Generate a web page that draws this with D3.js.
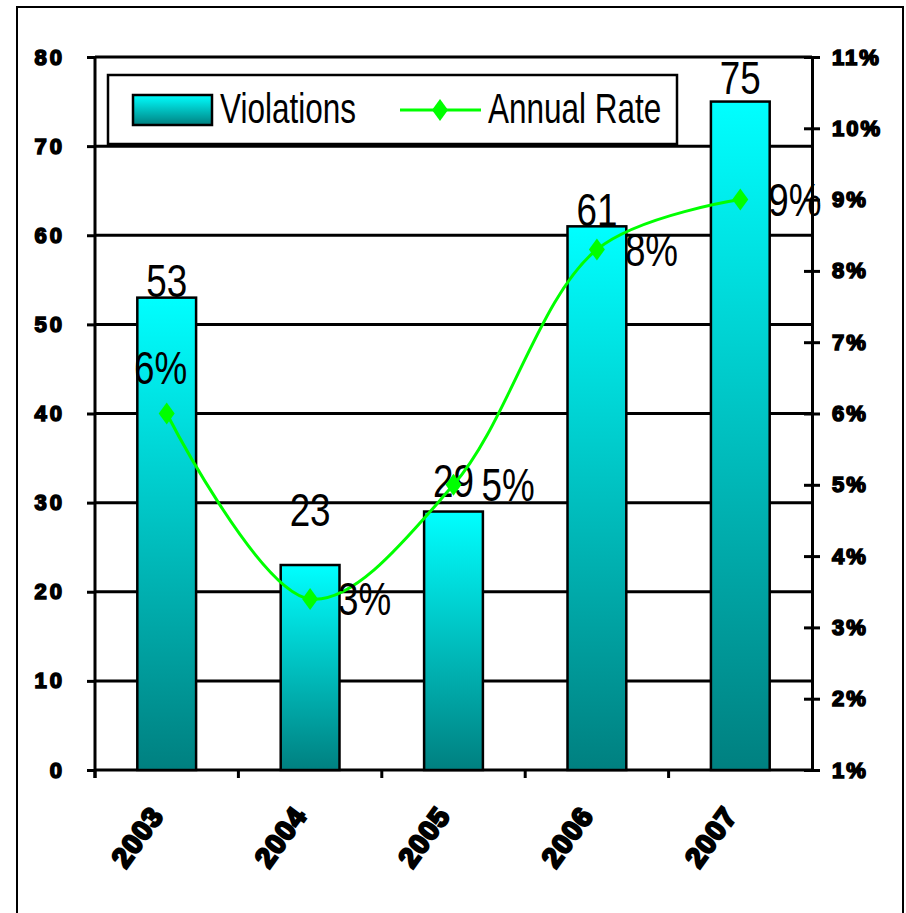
<!DOCTYPE html>
<html><head><meta charset="utf-8">
<script src="https://cdn.jsdelivr.net/npm/d3@7"></script>
<style>
html,body{margin:0;padding:0;background:#fff;}
svg{display:block;}
</style></head>
<body>
<script>
// ---- data ----
const categories = ["2003", "2004", "2005", "2006", "2007"];
const violations = [53, 23, 29, 61, 75];
const annualRate = [6.0, 3.4, 5.0, 8.3, 9.0];
const rateLabels = ["6%", "3%", "5%", "8%", "9%"];
const leftTicks = [0, 10, 20, 30, 40, 50, 60, 70, 80];
const rightTicks = [1, 2, 3, 4, 5, 6, 7, 8, 9, 10, 11];
const seriesNames = ["Violations", "Annual Rate"];

// ---- layout ----
const W = 906, H = 913;
const plot = {left: 95, right: 812, top: 57, bottom: 770};
const barLabelLift = [1, 39, 15, 0, 8];
const sansFont = "'Liberation Sans',Arial,sans-serif";
const SQ = 0.8; // horizontal squeeze for narrow look

const svg = d3.select("body").append("svg").attr("width", W).attr("height", H);

const defs = svg.append("defs");
const grad = defs.append("linearGradient").attr("id", "barGrad")
  .attr("x1", 0).attr("y1", 0).attr("x2", 0).attr("y2", 1);
grad.append("stop").attr("offset", "0%").attr("stop-color", "#00ffff");
grad.append("stop").attr("offset", "100%").attr("stop-color", "#008080");

function narrowText(sel, fs) {
  return sel.attr("font-family", sansFont).attr("font-size", fs).attr("fill", "#000");
}

// outer frame
svg.append("path").attr("d", `M17,${H+5} V7 H903 V${H+5}`)
  .attr("fill", "none").attr("stroke", "#000").attr("stroke-width", 2);

const x = d3.scaleBand().domain(categories).range([plot.left, plot.right])
  .paddingInner(0.59).paddingOuter(0.295);
const y = d3.scaleLinear().domain([0, 80]).range([plot.bottom, plot.top]);
const yR = d3.scaleLinear().domain([1, 11]).range([plot.bottom, plot.top]);

// gridlines
svg.append("g").selectAll("line").data(leftTicks.filter(d => d > 0)).join("line")
  .attr("x1", plot.left).attr("x2", plot.right)
  .attr("y1", d => y(d)).attr("y2", d => y(d))
  .attr("stroke", "#000").attr("stroke-width", 3);

// left axis
const gL = svg.append("g").attr("transform", `translate(${plot.left},0)`)
  .call(d3.axisLeft(y).tickValues(leftTicks).tickSize(8).tickPadding(22).tickSizeOuter(0));
gL.select(".domain").attr("stroke-width", 3).attr("d", `M0,${plot.top}V${plot.bottom + 8}`);
gL.selectAll(".tick line").attr("stroke-width", 3);
gL.selectAll(".tick text").attr("font-family", sansFont).attr("font-weight", "bold")
  .attr("font-size", 22).attr("letter-spacing", 3).attr("stroke", "#000").attr("stroke-width", 1.6)
  .attr("fill", "#000");

// right axis
const gR = svg.append("g").attr("transform", `translate(${plot.right},0)`)
  .call(d3.axisRight(yR).tickValues(rightTicks).tickFormat(d => d + "%").tickSize(8).tickPadding(12).tickSizeOuter(0));
gR.select(".domain").attr("stroke-width", 3);
gR.selectAll(".tick line").attr("stroke-width", 3).attr("x1", -8);
gR.selectAll(".tick text").attr("font-family", sansFont).attr("font-weight", "bold")
  .attr("font-size", 22).attr("letter-spacing", 2).attr("stroke", "#000").attr("stroke-width", 1.6)
  .attr("fill", "#000");

// bottom axis
const gB = svg.append("g").attr("transform", `translate(0,${plot.bottom})`);
gB.append("line").attr("x1", plot.left).attr("x2", plot.right).attr("stroke", "#000").attr("stroke-width", 3);
gB.selectAll(".xt").data(categories).join("line").attr("class", "xt")
  .attr("x1", d => x(d) - x.step() * 0.295).attr("x2", d => x(d) - x.step() * 0.295)
  .attr("y1", 0).attr("y2", 8).attr("stroke", "#000").attr("stroke-width", 3);
gB.selectAll(".xl").data(categories).join("text").attr("class", "xl")
  .attr("transform", d => `translate(${x(d) + x.bandwidth() / 2 - 10},${40}) rotate(-54)`)
  .attr("text-anchor", "end").attr("dy", "0.35em")
  .attr("font-family", sansFont).attr("font-weight", "bold").attr("font-size", 28)
  .attr("letter-spacing", 1).attr("stroke", "#000").attr("stroke-width", 2.4)
  .text(d => d);

// bars
svg.append("g").selectAll("rect").data(violations).join("rect")
  .attr("x", (d, i) => x(categories[i]))
  .attr("y", d => y(d))
  .attr("width", x.bandwidth())
  .attr("height", d => y(0) - y(d))
  .attr("fill", "url(#barGrad)").attr("stroke", "#000").attr("stroke-width", 2.5);

// bar labels
svg.append("g").selectAll("text").data(violations).join("text")
  .attr("transform", (d, i) => `translate(${x(categories[i]) + x.bandwidth() / 2},${y(d) - barLabelLift[i]}) scale(${SQ},1)`)
  .attr("text-anchor", "middle")
  .call(narrowText, 46)
  .text(d => d);

// rate line
const pts = annualRate.map((r, i) => [x(categories[i]) + x.bandwidth() / 2, yR(r)]);
svg.append("path").datum(pts)
  .attr("d", d3.line().curve(d3.curveCatmullRom.alpha(0.5)))
  .attr("fill", "none").attr("stroke", "#00ff00").attr("stroke-width", 3);
const diamond = "M0,-11 L8,0 L0,11 L-8,0 Z";
svg.append("g").selectAll("path").data(pts).join("path")
  .attr("transform", d => `translate(${d[0]},${d[1]})`)
  .attr("d", diamond).attr("fill", "#00ff00");

// rate labels
svg.append("g").selectAll("text").data(rateLabels).join("text")
  .attr("transform", (d, i) => i === 0
    ? `translate(${pts[i][0] - 6},${pts[i][1] - 30}) scale(${SQ},1)`
    : `translate(${pts[i][0] + 28},${pts[i][1] + 16}) scale(${SQ},1)`)
  .attr("text-anchor", (d, i) => i === 0 ? "middle" : "start")
  .call(narrowText, 46)
  .text(d => d);

// legend
const lg = svg.append("g");
lg.append("rect").attr("x", 108).attr("y", 75).attr("width", 569).attr("height", 69)
  .attr("fill", "#fff").attr("stroke", "#000").attr("stroke-width", 2.5);
lg.append("rect").attr("x", 133).attr("y", 95).attr("width", 79).attr("height", 30)
  .attr("fill", "url(#barGrad)").attr("stroke", "#000").attr("stroke-width", 2.5);
lg.append("text").attr("transform", `translate(220,123) scale(0.75,1)`)
  .call(narrowText, 42).text(seriesNames[0]);
lg.append("line").attr("x1", 400).attr("x2", 481).attr("y1", 110).attr("y2", 110)
  .attr("stroke", "#00ff00").attr("stroke-width", 3);
lg.append("path").attr("transform", "translate(440,110)").attr("d", diamond).attr("fill", "#00ff00");
lg.append("text").attr("transform", `translate(488,123) scale(0.75,1)`)
  .call(narrowText, 42).text(seriesNames[1]);
</script>
</body></html>
